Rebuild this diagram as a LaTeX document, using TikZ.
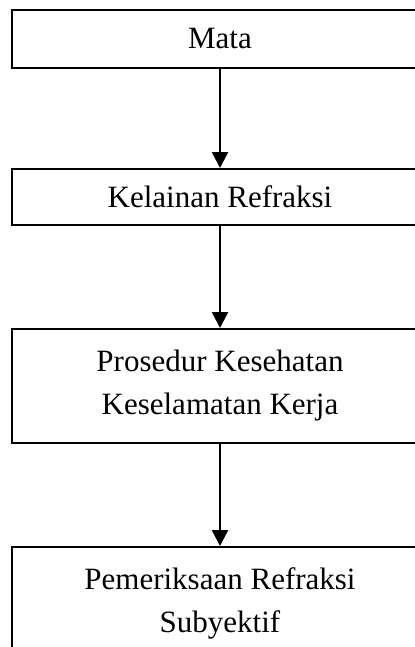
\documentclass[tikz,border=0pt]{standalone}
\usepackage{fontspec}
\setmainfont{Liberation Serif}
\usepackage{tikz}
\usetikzlibrary{arrows.meta}
\tikzset{
box/.style = {rectangle, draw=black, line width=1pt, minimum width = #1, align=center, inner sep=0pt,
  font=\fontsize{15.5}{21.5}\selectfont},
box/.default = 208pt, % width of the boxes
}

\begin{document}
\begin{tikzpicture}[x=1pt,y=1pt]

    \useasboundingbox (0,0) rectangle (207.5,-323.5);
    \clip (0,0) rectangle (207.5,-323.5);

    \node[box, minimum height=29pt] (mata) at (110,-19.5) {Mata};
    \node[box, minimum height=28pt] (kelainan) at (110,-98.5) {Kelainan Refraksi};
    \node[box, minimum height=57pt] (prosedur) at (110,-193) {Prosedur Kesehatan\\Keselamatan Kerja};
    \node[box, minimum height=56.5pt] (periksa) at (110,-301.75) {Pemeriksaan Refraksi\\Subyektif};


\draw[-{Triangle[width=8pt,length=8pt]}, line width=1.2pt]   (mata) edge (kelainan);
\draw[-{Triangle[width=8pt,length=8pt]}, line width=1.2pt]  (kelainan) edge (prosedur);
\draw[-{Triangle[width=8pt,length=8pt]}, line width=1.2pt]  (prosedur) edge (periksa);


\end{tikzpicture}
\end{document}
